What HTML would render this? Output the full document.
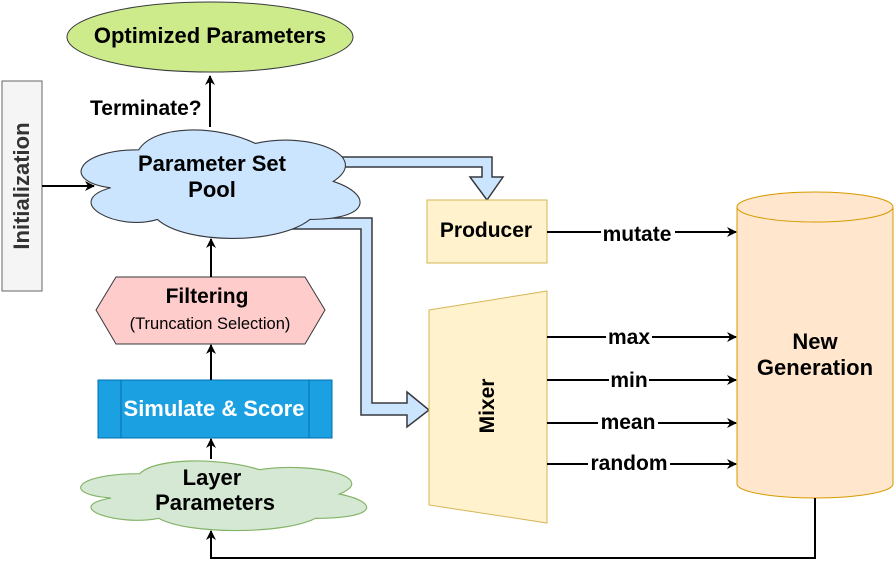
<!DOCTYPE html>
<html><head><meta charset="utf-8"><style>
html,body{margin:0;padding:0;background:#fff;}
svg{display:block;font-family:"Liberation Sans",Arial,sans-serif;}
</style></head><body>
<svg width="895" height="569" viewBox="0 0 895 569" xmlns="http://www.w3.org/2000/svg">
<defs>
<marker id="ah" markerWidth="10" markerHeight="10" refX="9" refY="5" orient="auto" markerUnits="userSpaceOnUse">
<path d="M0,0 L10,5 L0,10 L3,5 Z" fill="#000"/>
</marker>
</defs>

<path d="M300,157 L492,157 L492,177 L503,177 L487,200 L470,177 L482,177 L482,167 L300,167 Z" fill="#cce5ff" stroke="#36393d" stroke-width="1.5"/>
<path d="M290,218 L372,218 L372,403 L407,403 L407,392 L429,410 L407,427 L407,415 L361,415 L361,229 L290,229 Z" fill="#cce5ff" stroke="#36393d" stroke-width="1.5"/>

<ellipse cx="210" cy="37" rx="143" ry="35" fill="#cdeb8b" stroke="#36393d" stroke-width="1"/>
<text x="210" y="43" text-anchor="middle" font-size="22" font-weight="bold">Optimized Parameters</text>

<rect x="2" y="81" width="40" height="210" fill="#f5f5f5" stroke="#666" stroke-width="1"/>
<text transform="translate(29,186) rotate(-90)" text-anchor="middle" font-size="22" font-weight="bold" fill="#333">Initialization</text>

<path transform="translate(216,182) scale(1.1,1.12) translate(-216,-182)" d="M145.75,153.25 C89.15,153.25 75,181.5 120.28,187.15 C75,199.58 125.94,226.7 162.73,215.4 C188.2,238 273.1,238 301.4,215.4 C358,215.4 358,192.8 322.6,181.5 C358,158.9 301.4,136.3 251.9,147.6 C216.5,130.65 159.9,130.65 145.75,153.25 Z" fill="#cce5ff" stroke="#36393d" stroke-width="1"/>
<text x="212" y="171" text-anchor="middle" font-size="22" font-weight="bold">Parameter Set</text>
<text x="212" y="197" text-anchor="middle" font-size="22" font-weight="bold">Pool</text>

<line x1="42" y1="186" x2="94" y2="186" stroke="#000" stroke-width="2" marker-end="url(#ah)"/>
<text x="90" y="115" font-size="21" font-weight="bold">Terminate?</text>
<line x1="210" y1="127" x2="210" y2="76" stroke="#000" stroke-width="2" marker-end="url(#ah)"/>

<polygon points="96,310 116,277 305,277 325,310 305,344 116,344" fill="#ffcccc" stroke="#36393d" stroke-width="1"/>
<text x="207" y="303" text-anchor="middle" font-size="21" font-weight="bold">Filtering</text>
<text x="210" y="329" text-anchor="middle" font-size="16.5">(Truncation Selection)</text>
<line x1="211" y1="277" x2="211" y2="239" stroke="#000" stroke-width="2" marker-end="url(#ah)"/>

<rect x="98" y="380" width="234" height="58" fill="#1ba1e2" stroke="#006eaf" stroke-width="1"/>
<line x1="121" y1="380" x2="121" y2="438" stroke="#006eaf"/>
<line x1="309" y1="380" x2="309" y2="438" stroke="#006eaf"/>
<text x="214" y="416" text-anchor="middle" font-size="22" font-weight="bold" fill="#fff">Simulate &amp; Score</text>
<line x1="211" y1="380" x2="211" y2="345" stroke="#000" stroke-width="2" marker-end="url(#ah)"/>

<path transform="translate(219,494) scale(1.12,1.16) translate(-219,-494)" d="M148.25,476.5 C91.25,476.5 77,494 122.6,497.5 C77,505.2 128.3,522 165.35,515 C191,529 276.5,529 305,515 C362,515 362,501 326.4,494 C362,480 305,466 255.1,473 C219.5,462.5 162.5,462.5 148.25,476.5 Z" fill="#d5e8d4" stroke="#82b366" stroke-width="1"/>
<text x="212" y="485" text-anchor="middle" font-size="22" font-weight="bold">Layer</text>
<text x="215" y="510" text-anchor="middle" font-size="22" font-weight="bold">Parameters</text>
<line x1="211" y1="459" x2="211" y2="439" stroke="#000" stroke-width="2" marker-end="url(#ah)"/>

<rect x="427" y="200" width="120" height="63" fill="#fff2cc" stroke="#d6b656" stroke-width="1"/>
<text x="486" y="237" text-anchor="middle" font-size="21" font-weight="bold">Producer</text>

<polygon points="429,310 547,291 547,523 429,505" fill="#fff2cc" stroke="#d6b656" stroke-width="1"/>
<text transform="translate(494,406) rotate(-90)" text-anchor="middle" font-size="21" font-weight="bold">Mixer</text>

<path d="M737,207 L737,484 A78,14 0 0 0 893,484 L893,207" fill="#ffe6cc" stroke="#d79b00" stroke-width="1"/>
<ellipse cx="815" cy="207" rx="78" ry="15" fill="#ffe6cc" stroke="#d79b00" stroke-width="1"/>
<text x="815" y="349" text-anchor="middle" font-size="22" font-weight="bold">New</text>
<text x="815" y="375" text-anchor="middle" font-size="22" font-weight="bold">Generation</text>

<g stroke="#000" stroke-width="2">
<line x1="547" y1="232" x2="736" y2="232" marker-end="url(#ah)"/>
<line x1="547" y1="337" x2="736" y2="337" marker-end="url(#ah)"/>
<line x1="547" y1="380" x2="736" y2="380" marker-end="url(#ah)"/>
<line x1="547" y1="423" x2="736" y2="423" marker-end="url(#ah)"/>
<line x1="547" y1="464" x2="736" y2="464" marker-end="url(#ah)"/>
</g>
<g font-size="21" font-weight="bold" text-anchor="middle">
<rect x="601" y="221" width="74" height="22" fill="#fff"/><text x="637" y="241">mutate</text>
<rect x="606" y="326" width="46" height="22" fill="#fff"/><text x="629" y="344">max</text>
<rect x="609" y="369" width="40" height="22" fill="#fff"/><text x="629" y="387">min</text>
<rect x="598" y="412" width="60" height="22" fill="#fff"/><text x="628" y="429">mean</text>
<rect x="588" y="453" width="82" height="22" fill="#fff"/><text x="629" y="470">random</text>
</g>

<polyline points="815,498 815,558 211,558 211,531" fill="none" stroke="#000" stroke-width="2" marker-end="url(#ah)"/>
</svg>
</body></html>
